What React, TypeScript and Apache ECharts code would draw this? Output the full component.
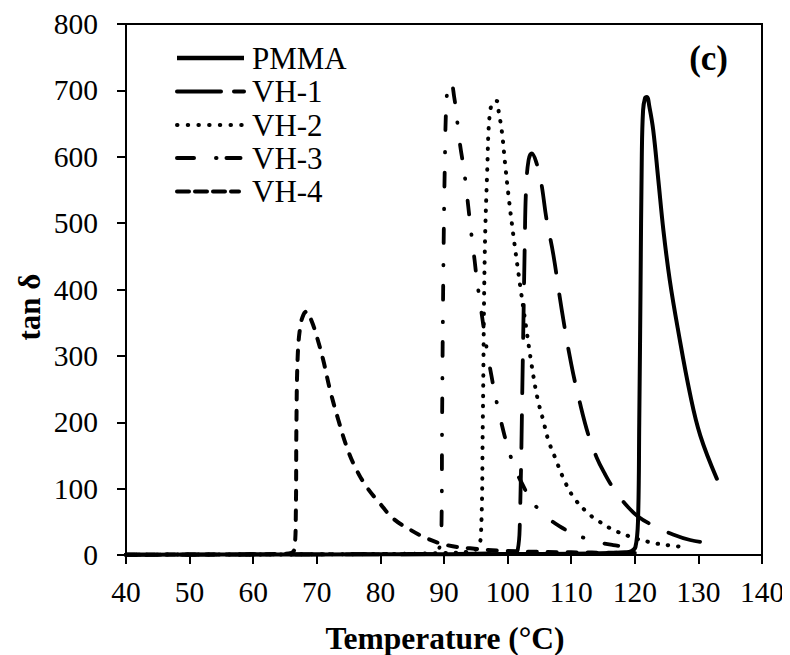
import React, { useEffect, useRef } from "react";
import * as echarts from "echarts";

// Tick values
const xTicks = { min: 40, max: 140, step: 10 };
const yTicks = { min: 0, max: 800, step: 100 };

const seriesNames = ["PMMA", "VH-1", "VH-2", "VH-3", "VH-4"];

// PMMA
const pmmaT = [40, 60, 80, 100, 110, 116, 118.5, 119.5, 120.1, 120.5, 120.7, 120.9, 121.1, 121.3, 121.6, 121.9, 122.3, 122.9, 123.7, 124.5, 125.5, 126.8, 128.7, 130.3, 132.9];
const pmmaTan = [0.5, 0.8, 1, 1.5, 2, 3, 4, 6, 12, 50, 200, 400, 600, 670, 688, 690, 675, 640, 565, 489, 414, 339, 242, 180, 115];

// VH-1
const vh1T = [40, 60, 80, 95, 100, 101.2, 101.6, 101.9, 102.4, 102.7, 102.9, 103.3, 103.8, 104.5, 105.3, 106.1, 107.2, 108.5, 110, 111.4, 112.7, 114, 115.3, 116.6, 118.5, 120.5, 123.2, 126, 128.7, 131.5, 133];
const vh1Tan = [0.5, 0.8, 1, 2, 3, 4, 8, 40, 300, 470, 550, 595, 605, 592, 560, 507, 452, 370, 288, 228, 181, 147, 122, 101, 77, 58, 43, 31, 22.6, 18, 15];

// VH-2
const vh2T = [40, 60, 80, 90, 94.5, 95.3, 95.8, 96.1, 96.4, 96.8, 97.2, 97.8, 98.3, 98.6, 99.1, 99.6, 100.1, 100.9, 102, 102.9, 103.8, 104.7, 105.6, 106.4, 107.5, 108.8, 110.3, 112.4, 113.7, 116.4, 119.5, 122.7, 125.8, 127.4];
const vh2Tan = [0.5, 0.8, 1.5, 3, 6, 12, 28, 200, 449, 580, 665, 683, 684, 668, 638, 590, 545, 482, 404, 344, 285, 236, 203, 173, 146, 115, 88, 65, 55, 39, 27, 18.6, 14, 12.5];

// VH-3
const vh3T = [40, 60, 80, 88.3, 88.8, 89.3, 89.6, 89.7, 89.9, 90.15, 90.4, 90.8, 91.1, 91.6, 92, 92.5, 93.2, 93.7, 94.2, 94.8, 95.1, 95.9, 96.9, 97.5, 98, 99, 100.1, 101.2, 102.3, 103.9, 106.1, 108.2, 110.9, 114, 116.6, 120];
const vh3Tan = [0.5, 0.8, 1.5, 2, 3, 12, 40, 200, 430, 599, 685, 712, 712, 690, 660, 620, 576, 535, 492, 445, 420, 365, 300, 268, 243, 200, 160, 130, 107, 80, 58, 43, 30, 20, 15, 11];

// VH-4
const vh4T = [40, 55, 64, 66, 66.5, 66.7, 66.8, 67, 67.4, 67.9, 68.4, 69.2, 70, 71, 72.1, 73.4, 74.7, 76, 77.8, 79.9, 82, 84.7, 87.3, 90.4, 94.1, 100, 110, 120];
const vh4Tan = [0.5, 0.8, 1.5, 3, 10, 60, 200, 300, 344, 362, 367, 352, 329, 294, 248, 203, 163, 133, 103, 78, 55, 38, 25, 15, 10, 6, 4, 3];

const FONT = "'Liberation Serif', 'Times New Roman', serif";

const pairs = (t: number[], v: number[]) => t.map((x, i) => [x, v[i]]);

const styles = [
  { width: 4, type: "solid" as any },
  { width: 3.8, type: [33, 22] },
  { width: 4, type: [0.5, 9.8] },
  { width: 3.8, type: [14, 20, 0.5, 22] },
  { width: 4, type: [9, 11] },
];

const legendDash: any[] = [null, [44, 13, 10, 100], [0.5, 10.2], [17, 22, 0.5, 10, 14, 100], [12, 6, 12, 6, 12, 6, 8, 100]];
const legendY = [58, 91.5, 125, 158, 191.5];

export default function App() {
  const ref = useRef<HTMLDivElement>(null);
  useEffect(() => {
    if (!ref.current) return;
    const chart = echarts.init(ref.current, undefined, { renderer: "svg" });
    const data = [
      pairs(pmmaT, pmmaTan),
      pairs(vh1T, vh1Tan),
      pairs(vh2T, vh2Tan),
      pairs(vh3T, vh3Tan),
      pairs(vh4T, vh4Tan),
    ];
    const graphics: any[] = [];
    seriesNames.forEach((name, i) => {
      graphics.push({
        type: "polyline",
        shape: { points: [[177, legendY[i]], [244, legendY[i]]] },
        style: {
          stroke: "#000",
          lineWidth: i === 0 ? 4.5 : 4,
          lineDash: legendDash[i] || undefined,
          lineCap: i === 0 ? "butt" : "round",
          fill: null,
        },
      });
      graphics.push({
        type: "text",
        x: 252,
        y: legendY[i],
        style: {
          text: name,
          font: `31px ${FONT}`,
          fill: "#000",
          verticalAlign: "middle",
          align: "left",
        },
      });
    });
    graphics.push({
      type: "text",
      x: 728,
      y: 58,
      style: { text: "(c)", font: `bold 35px ${FONT}`, fill: "#000", align: "right", verticalAlign: "middle" },
    });
    graphics.push({
      type: "text",
      x: 445,
      y: 638,
      style: { text: "Temperature (°C)", font: `bold 31.5px ${FONT}`, fill: "#000", align: "center", verticalAlign: "middle" },
    });
    graphics.push({
      type: "text",
      x: 29,
      y: 307,
      rotation: Math.PI / 2,
      style: { text: "tan δ", font: `bold 31px ${FONT}`, fill: "#000", align: "center", verticalAlign: "middle" },
    });

    chart.setOption({
      animation: false,
      backgroundColor: "#fff",
      grid: { left: 126, top: 24, right: 28, bottom: 100, show: true, borderColor: "#000", borderWidth: 2, backgroundColor: "transparent" },
      xAxis: {
        type: "value",
        min: xTicks.min,
        max: xTicks.max,
        interval: xTicks.step,
        splitLine: { show: false },
        axisLine: { lineStyle: { color: "#000", width: 2 } },
        axisTick: { inside: false, length: 9, lineStyle: { color: "#000", width: 2 } },
        axisLabel: { color: "#000", fontSize: 29.5, fontFamily: FONT, margin: 22 },
      },
      yAxis: {
        type: "value",
        min: yTicks.min,
        max: yTicks.max,
        interval: yTicks.step,
        splitLine: { show: false },
        axisLine: { lineStyle: { color: "#000", width: 2 } },
        axisTick: { inside: false, length: 9, lineStyle: { color: "#000", width: 2 } },
        axisLabel: { color: "#000", fontSize: 29.5, fontFamily: FONT, margin: 28 },
      },
      series: data.map((d, i) => ({
        name: seriesNames[i],
        type: "line",
        data: d,
        showSymbol: false,
        smooth: 0.4,
        lineStyle: { color: "#000", width: styles[i].width, type: styles[i].type, cap: "round", join: "round" },
        z: 3,
      })),
      graphic: graphics,
    });
    return () => chart.dispose();
  }, []);
  return <div ref={ref} style={{ width: 790, height: 655, marginLeft: -8, marginTop: -8 }} />;
}
